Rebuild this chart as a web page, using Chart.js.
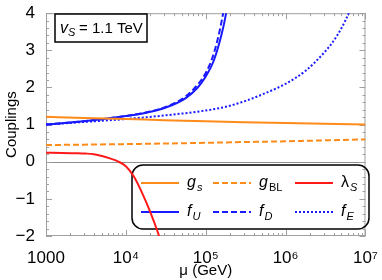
<!DOCTYPE html>
<html>
<head>
<meta charset="utf-8">
<script src="https://cdn.jsdelivr.net/npm/chart.js@4"></script>
<style>
  body { margin: 0; background: #fff; }
</style>
</head>
<body>
<canvas id="couplings-chart" width="382" height="280"></canvas>
<script>
// running couplings vs scale mu (GeV)
const gS = [[1000, 1.21], [3000, 1.18], [1e4, 1.15], [3e4, 1.12], [1e5, 1.09], [3e5, 1.065], [1e6, 1.04], [3e6, 1.02], [1e7, 1.0]];
const gBL = [[1000, 0.45], [3000, 0.46], [1e4, 0.475], [3e4, 0.49], [1e5, 0.51], [3e5, 0.53], [1e6, 0.55], [3e6, 0.575], [1e7, 0.6]];
const lambdaS = [[1000, 0.24], [1580, 0.238], [2510, 0.23], [3160, 0.22], [3980, 0.2], [5010, 0.155], [6310, 0.09], [7940, 0.01], [1e4, -0.12], [12600, -0.4], [15800, -0.82], [20000, -1.33], [25100, -1.9], [31600, -2.6]];
const fU = [[1000, 1.0], [3160, 1.098], [1e4, 1.231], [17800, 1.319], [31600, 1.459], [56200, 1.715], [79400, 2.0], [1e5, 2.294], [126000, 2.72], [158000, 3.43], [178000, 3.95], [200000, 4.71]];
const fD = [[1000, 1.0], [3160, 1.098], [1e4, 1.231], [17800, 1.325], [31600, 1.474], [56200, 1.76], [79400, 2.08], [1e5, 2.39], [126000, 2.91], [158000, 3.78], [178000, 4.47], [200000, 5.59]];
const fE = [[1000, 1.0], [3160, 1.075], [1e4, 1.15], [31600, 1.25], [1e5, 1.38], [178000, 1.48], [316000, 1.64], [562000, 1.85], [1e6, 2.1], [1780000, 2.45], [3160000, 2.98], [3980000, 3.25], [5010000, 3.6], [6310000, 4.05], [7080000, 4.35]];

// legend names: [symbol, subscript, symbol italic, subscript italic]
const names = [["g", "s", true, true], ["g", "BL", true, false], ["λ", "S", false, true], ["f", "U", true, true], ["f", "D", true, true], ["f", "E", true, true]];

const xTickVals = [1000, 1e4, 1e5, 1e6, 1e7];
const xTickLabels = ["1000", "10⁴", "10⁵", "10⁶", "10⁷"];
const yTickVals = [-2, -1, 0, 1, 2, 3, 4];
const yTickLabels = ["−2", "−1", "0", "1", "2", "3", "4"];

const ORANGE = "#ff8c1a";
const BLUE = "#1a1aff";
const RED = "#ff1a1a";
const FONT = "'Liberation Sans', Arial, sans-serif";

const toPoints = (arr) => arr.map((p) => ({ x: p[0], y: p[1] }));

const makeSet = (data, color, dash) => ({
  data: toPoints(data),
  borderColor: color,
  borderWidth: 2,
  borderDash: dash,
  pointRadius: 0,
  fill: false,
  cubicInterpolationMode: "monotone",
});

const datasets = [
  makeSet(gS, ORANGE, []),
  makeSet(gBL, ORANGE, [6, 3]),
  makeSet(lambdaS, RED, []),
  makeSet(fU, BLUE, []),
  makeSet(fD, BLUE, [6, 3]),
  makeSet(fE, BLUE, [2, 2]),
];

// frame, inward ticks and zero line (Mathematica style)
const framePlugin = {
  id: "frame",
  beforeDatasetsDraw(chart) {
    const { ctx, chartArea: a, scales } = chart;
    ctx.save();
    ctx.strokeStyle = "#a0a0a0";
    ctx.lineWidth = 1;
    ctx.strokeRect(a.left + 0.5, a.top + 0.5, a.right - a.left - 1, a.bottom - a.top - 1);

    const y0 = Math.round(scales.y.getPixelForValue(0)) + 0.5;
    ctx.strokeStyle = "#909090";
    ctx.beginPath();
    ctx.moveTo(a.left, y0);
    ctx.lineTo(a.right, y0);
    ctx.stroke();

    ctx.strokeStyle = "#a0a0a0";
    ctx.beginPath();
    for (let n = 3; n < 7; n++) {
      for (let k = 1; k <= 10; k++) {
        const v = k * Math.pow(10, n);
        const px = Math.round(scales.x.getPixelForValue(v)) + 0.5;
        const len = k === 1 || k === 10 ? 6 : 3;
        ctx.moveTo(px, a.bottom);
        ctx.lineTo(px, a.bottom - len);
        ctx.moveTo(px, a.top);
        ctx.lineTo(px, a.top + len);
      }
    }
    for (let i = -10; i <= 20; i++) {
      const v = i / 5;
      const py = Math.round(scales.y.getPixelForValue(v)) + 0.5;
      const len = i % 5 === 0 ? 6 : 3;
      ctx.moveTo(a.left, py);
      ctx.lineTo(a.left + len, py);
      ctx.moveTo(a.right, py);
      ctx.lineTo(a.right - len, py);
    }
    ctx.stroke();
    ctx.restore();

    drawLegend(chart);
  },
  afterDatasetsDraw(chart) {
    const { ctx } = chart;
    ctx.save();
    ctx.fillStyle = "#fff";
    ctx.fillRect(55, 14, 92, 28);
    ctx.strokeStyle = "#000";
    ctx.lineWidth = 1.5;
    ctx.strokeRect(55, 14, 92, 28);
    ctx.fillStyle = "#000";
    ctx.textBaseline = "alphabetic";
    ctx.font = "italic 16px " + FONT;
    ctx.fillText("v", 60, 33);
    ctx.font = "italic 11px " + FONT;
    ctx.fillText("S", 68, 36);
    ctx.font = "15px " + FONT;
    ctx.fillText("= 1.1 TeV", 79, 33);
    ctx.restore();
  },
};

function drawName(ctx, name, x, y) {
  ctx.font = (name[2] ? "italic " : "") + "16px " + FONT;
  ctx.fillText(name[0], x, y);
  const w = ctx.measureText(name[0]).width;
  ctx.font = (name[3] ? "italic " : "") + "11px " + FONT;
  ctx.fillText(name[1], x + w + 1, y + 4);
}

function drawLegend(chart) {
  const { ctx } = chart;
  ctx.save();
  ctx.strokeStyle = "#000";
  ctx.lineWidth = 1.5;
  ctx.beginPath();
  ctx.roundRect(132, 165, 237, 64, 11);
  ctx.stroke();
  const cols = [141, 213, 295];
  const rows = [183, 212];
  chart.data.datasets.forEach((ds, i) => {
    const x = cols[i % 3];
    const y = rows[Math.floor(i / 3)];
    ctx.strokeStyle = ds.borderColor;
    ctx.lineWidth = 2;
    ctx.setLineDash(ds.borderDash);
    ctx.beginPath();
    ctx.moveTo(x, y);
    ctx.lineTo(x + 38, y);
    ctx.stroke();
    ctx.setLineDash([]);
    ctx.fillStyle = "#000";
    drawName(ctx, names[i], x + 46, y + 4);
  });
  ctx.restore();
}

const canvas = document.getElementById("couplings-chart");

new Chart(canvas, {
  type: "line",
  data: { datasets: datasets },
  options: {
    responsive: false,
    animation: false,
    layout: { padding: { top: 9, right: 11, left: 0, bottom: 0 } },
    plugins: {
      legend: { display: false },
      tooltip: { enabled: false },
    },
    scales: {
      x: {
        type: "logarithmic",
        min: 1000,
        max: 1e7,
        afterBuildTicks: (axis) => {
          axis.ticks = xTickVals.map((v) => ({ value: v }));
        },
        afterFit: (s) => {
          s.height = 44;
        },
        grid: { display: false },
        border: { display: false },
        ticks: {
          autoSkip: false,
          maxRotation: 0,
          padding: 4,
          color: "#000",
          font: { family: FONT, size: 17 },
          callback: (v) => xTickLabels[xTickVals.indexOf(v)],
        },
        title: {
          display: true,
          text: "μ (GeV)",
          color: "#000",
          font: { family: FONT, size: 15 },
          padding: { top: 0, bottom: 0 },
        },
      },
      y: {
        min: -2,
        max: 4,
        afterBuildTicks: (axis) => {
          axis.ticks = yTickVals.map((v) => ({ value: v }));
        },
        afterFit: (s) => {
          s.width = 46;
        },
        grid: { display: false },
        border: { display: false },
        ticks: {
          padding: 3,
          color: "#000",
          font: { family: FONT, size: 17 },
          callback: (v) => yTickLabels[yTickVals.indexOf(v)],
        },
        title: {
          display: true,
          text: "Couplings",
          color: "#000",
          font: { family: FONT, size: 15 },
          padding: { top: 3, bottom: 0 },
        },
      },
    },
  },
  plugins: [framePlugin],
});
</script>
</body>
</html>
